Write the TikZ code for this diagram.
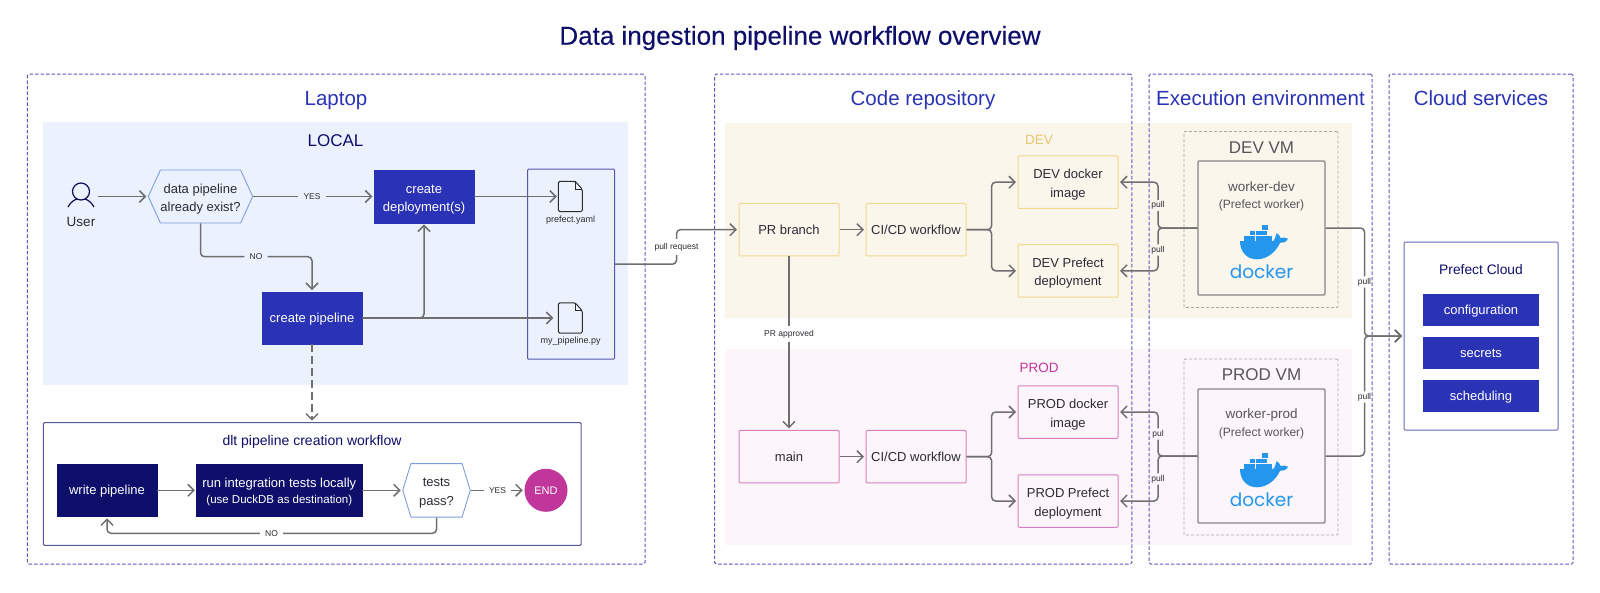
\documentclass[tikz,border=0pt]{standalone}
\usepackage{fontspec}
\setmainfont{Liberation Sans}
\newfontfamily\dockerfont{Poppins}
\newfontfamily\mediumfont[FakeBold=0.2]{Liberation Sans}
\usepackage{tikz}
\usetikzlibrary{arrows.meta,shapes.symbols,calc}

\definecolor{navy}{HTML}{0E0E6B}
\definecolor{royal}{HTML}{2A33B5}
\definecolor{framec}{HTML}{5E55C0}
\definecolor{localbg}{HTML}{EBF2FE}
\definecolor{devbg}{HTML}{FBF6EC}
\definecolor{prodbg}{HTML}{FCF6FB}
\definecolor{devc}{HTML}{F1D98F}
\definecolor{prodc}{HTML}{D87FBF}
\definecolor{devtxt}{HTML}{E6C66E}
\definecolor{prodtxt}{HTML}{C0369B}
\definecolor{hexc}{HTML}{7F9CE2}
\definecolor{linec}{HTML}{6F6F70}
\definecolor{boxc}{HTML}{5358AE}
\definecolor{txtc}{HTML}{2B2B33}
\definecolor{vmc}{HTML}{55555A}
\definecolor{dockerc}{HTML}{2496ED}

% page icon on top of an empty node
\newcommand{\fileicon}[1]{
  \draw[linec!40!black, line width=1pt, rounded corners=1.5pt] (#1.north west) -- ($(#1.north east)+(-7,0)$) -- ($(#1.north east)+(0,8)$) -- (#1.south east) -- (#1.south west) -- cycle;
  \draw[linec!40!black, line width=.8pt] ($(#1.north east)+(-7,0)$) -- ($(#1.north east)+(-7,8)$) -- ($(#1.north east)+(0,8)$);
}
% whale, containers and word; #1 = deck position, #2 = node name
\newcommand{\dockerlogo}[2]{
  \begin{scope}[shift={(#1)}]
    \fill[dockerc] (-21,0) -- (12,0) .. controls (14,-1) and (14.5,-5) .. (15.7,-8) .. controls (18,-6.5) and (19,-4.5) .. (19.5,-3) .. controls (22,-3.8) and (25,-3.6) .. (27,-2.3) .. controls (25,1.5) and (22,2) .. (19,1.8) .. controls (15,11) and (6,18.3) .. (-4,18.3) .. controls (-15,18.3) and (-21,10) .. (-21,0) -- cycle;
    \foreach \i in {0,...,4} \fill[dockerc] ({-16.7+5.7*\i},-5.3) rectangle ++(5.2,4.8);
    \foreach \i in {0,...,2} \fill[dockerc] ({-11+5.7*\i},-10.3) rectangle ++(5.2,4.6);
    \fill[dockerc] (1.4,-15.7) rectangle ++(5.2,4.6);
    \node[dockertext] (#2) at (0.5,31) {docker};
  \end{scope}
}

\begin{document}
\begin{tikzpicture}[
    x=1pt, y=-1pt,
    frame/.style={draw=framec, dashed, dash pattern=on 3.5pt off 2pt, line width=1pt, rounded corners=1.5pt},
    zone/.style={fill=#1, inner sep=0pt},
    headtext/.style={font=\fontsize{20.5}{24}\selectfont, text=royal, text height=15pt, text depth=0pt},
    flow/.style={minimum width=100pt, minimum height=52.5pt, inner sep=0pt, align=center, font=\fontsize{13}{18.5}\selectfont},
    oneline/.style={text height=9pt, text depth=0pt},
    twoline/.style={text height=30pt, text depth=0pt},
    royalbox/.style={flow, fill=royal, draw=royal, text=white},
    navybox/.style={flow, fill=navy, draw=navy, text=white},
    devbox/.style={flow, fill=devbg, draw=devc, line width=1pt, rounded corners=1pt, text=txtc},
    prodbox/.style={flow, fill=prodbg, draw=prodc, line width=1pt, rounded corners=1pt, text=txtc},
    hexbox/.style={shape=signal, signal to=east and west, signal from=nowhere, draw=hexc, line width=.9pt, inner sep=0pt, align=center, font=\fontsize{13}{18.5}\selectfont, text=txtc, twoline},
    outline/.style={draw=boxc, line width=1pt, rounded corners=1pt, inner sep=0pt},
    vmbox/.style={draw=linec!60, dashed, dash pattern=on 3pt off 2pt, line width=.8pt, rounded corners=1pt, minimum width=154pt, minimum height=176pt},
    workerbox/.style={draw=linec!85, line width=1.2pt, rounded corners=1pt, minimum width=127pt, minimum height=134pt},
    servicebox/.style={fill=royal, text=white, minimum width=116pt, minimum height=32pt, inner sep=0pt, font=\fontsize{13}{16}\selectfont, oneline},
    lbl/.style={font=\fontsize{8.5}{10}\selectfont, text=txtc, inner sep=1.5pt},
    yesno/.style={lbl, inner sep=5pt},
    filetext/.style={font=\fontsize{9}{11}\selectfont, text=txtc},
    dockertext/.style={font=\dockerfont\fontsize{18.5}{22}\selectfont, text=dockerc, inner sep=0pt},
    line/.style={draw=linec, line width=1.5pt, rounded corners=4pt},
    arr/.style={line, -{Straight Barb[length=6pt, width=12pt, line width=1.5pt]}, shorten >=1.5pt},
]
\useasboundingbox (0,0) rectangle (1600,592);

\node[navy, font=\mediumfont\fontsize{26}{30}\selectfont] (title) at (800,38) {Data ingestion pipeline workflow overview};

% coloured zones
\node[zone=localbg, minimum width=584.6pt, minimum height=262.7pt] (localzone) at (335.7,253.7) {};
\node[zone=devbg, minimum width=627pt, minimum height=195pt] (devzone) at (1038.5,220.5) {};
\node[zone=prodbg, minimum width=627pt, minimum height=196pt] (prodzone) at (1038.5,447) {};

% dashed frames
\node[frame, minimum width=617.6pt, minimum height=490pt] (laptop) at (336.2,319) {};
\node[frame, minimum width=417.3pt, minimum height=490pt] (coderepo) at (923.3,319) {};
\node[frame, minimum width=223pt, minimum height=490pt] (execenv) at (1260.5,319) {};
\node[frame, minimum width=184pt, minimum height=490pt] (cloudsrv) at (1481,319) {};

\node[headtext] (laptophead) at (336,98) {Laptop};
\node[headtext] (codehead) at (923,98) {Code repository};
\node[headtext] (exechead) at (1260.5,98) {Execution environment};
\node[headtext] (cloudhead) at (1481,98) {Cloud services};

\node[navy, font=\fontsize{17}{20}\selectfont] (localhead) at (335.5,141) {LOCAL};
\node[devtxt, font=\fontsize{13.5}{16}\selectfont] (devhead) at (1039,140) {DEV};
\node[prodtxt, font=\fontsize{13.5}{16}\selectfont] (prodhead) at (1039,367.5) {PROD};

% local flow
\node[minimum width=34pt, minimum height=26pt, inner sep=0pt] (user) at (81,196.5) {};
\node[font=\fontsize{13.5}{16}\selectfont, text=txtc] (usertext) at (81,222) {User};
\node[hexbox, minimum width=94pt, minimum height=53pt, signal pointer angle=131] (exist) at (200.5,196.5) {data pipeline\\already exist?};
\node[royalbox, twoline] (deploy) at (424,196.5) {create\\deployment(s)};
\node[royalbox, oneline] (pipeline) at (312,318) {create pipeline};
\node[outline, minimum width=87pt, minimum height=190pt] (files) at (571,264.2) {};
\node[minimum width=23.5pt, minimum height=30pt, inner sep=0pt] (yaml) at (570.3,196.5) {};
\node[minimum width=23.5pt, minimum height=30pt, inner sep=0pt] (mypy) at (570.3,318) {};
\fileicon{yaml}
\fileicon{mypy}
\node[filetext] (yamltext) at (570.7,220) {prefect.yaml};
\node[filetext] (mypytext) at (570.7,341) {my\_pipeline.py};
\node[yesno] (yesa) at (312,196.5) {YES};
\node[yesno] (noa) at (256,256.7) {NO};

% dlt box
\node[outline, fill=white, draw=navy!70, minimum width=537.6pt, minimum height=122.6pt] (dlt) at (312.2,484) {};
\node[navy, font=\fontsize{14}{16}\selectfont] (dlthead) at (312,441.7) {dlt pipeline creation workflow};
\node[navybox, oneline] (write) at (107,490.3) {write pipeline};
\node[navybox, text height=27pt, text depth=0pt, minimum width=165.4pt, font=\fontsize{13}{17}\selectfont] (tests) at (279.3,490.3) {run integration tests locally\\[-1pt]{\fontsize{11.5}{14}\selectfont (use DuckDB as destination)}};
\node[hexbox, fill=white, minimum width=67.5pt, minimum height=53.5pt, signal pointer angle=146] (pass) at (436.5,490.3) {tests\\pass?};
\node[circle, fill=prodtxt, text=white, minimum size=43pt, inner sep=0pt, font=\fontsize{11}{13}\selectfont] (finish) at (546,490.3) {END};
\node[yesno] (yesb) at (497.5,490.3) {YES};
\node[yesno] (nob) at (271.5,533.3) {NO};

% code repository
\node[devbox, oneline] (prbranch) at (789,229.7) {PR branch};
\node[devbox, oneline] (cidev) at (916,229.7) {CI/CD workflow};
\node[devbox, twoline] (devimage) at (1068,182.2) {DEV docker\\image};
\node[devbox, twoline] (devdeploy) at (1068,270.8) {DEV Prefect\\deployment};
\node[prodbox, oneline] (mainbranch) at (789,456.7) {main};
\node[prodbox, oneline] (ciprod) at (916,456.7) {CI/CD workflow};
\node[prodbox, twoline] (prodimage) at (1068,412) {PROD docker\\image};
\node[prodbox, twoline] (proddeploy) at (1068,501) {PROD Prefect\\deployment};
\node[lbl, fill=white, inner sep=4pt] (pullreq) at (676.5,247) {pull request};
\node[lbl, fill=white, inner sep=4pt] (approved) at (789,334) {PR approved};

% virtual machines
\node[vmbox] (devvm) at (1261,219.5) {};
\node[vmbox] (prodvm) at (1261,447) {};
\node[font=\fontsize{17}{21}\selectfont, text=vmc] (devvmtext) at (1261.5,147.5) {DEV VM};
\node[font=\fontsize{17}{21}\selectfont, text=vmc] (prodvmtext) at (1261.5,375) {PROD VM};
\node[workerbox] (workerdev) at (1261.5,228) {};
\node[workerbox] (workerprod) at (1261.5,456) {};
\node[font=\fontsize{13.5}{16}\selectfont, text=vmc] (devname) at (1261.5,187) {worker-dev};
\node[font=\fontsize{12}{15}\selectfont, text=vmc] (devkind) at (1261.5,205) {(Prefect worker)};
\node[font=\fontsize{13.5}{16}\selectfont, text=vmc] (prodname) at (1261.5,415) {worker-prod};
\node[font=\fontsize{12}{15}\selectfont, text=vmc] (prodkind) at (1261.5,433) {(Prefect worker)};
\dockerlogo{1261,241}{dockerdev}
\dockerlogo{1261,469}{dockerprod}

\node[lbl] (pulla) at (1158,205.5) {pull};
\node[lbl] (pullb) at (1158,250) {pull};
\node[lbl] (pullc) at (1158,434) {pul};
\node[lbl] (pulld) at (1158,479) {pull};
\node[lbl] (pulle) at (1364.5,282) {pull};
\node[lbl] (pullf) at (1364.5,397) {pull};

% cloud
\node[outline, draw=boxc!90, minimum width=154pt, minimum height=188pt] (cloud) at (1481,336) {};
\node[navy, font=\fontsize{13.8}{16}\selectfont] (cloudtext) at (1481,270) {Prefect Cloud};
\node[servicebox] (config) at (1481,310) {configuration};
\node[servicebox] (secrets) at (1481,353) {secrets};
\node[servicebox] (sched) at (1481,396) {scheduling};

\coordinate (prbend) at (676.5,264.2);
\coordinate (devfork) at (991.6,229.7);
\coordinate (prodfork) at (991.6,456.7);
\coordinate (devpull) at (1158,228);
\coordinate (prodpull) at (1158,456);

% connectors
\draw[arr] (user.east) -- (exist.west);
\draw[line] (exist.east) -- (yesa.west);
\draw[arr] (yesa.east) -- (deploy.west);
\draw[line] (exist.south) |- (noa.west);
\draw[arr] (noa.east) -| (pipeline.north);
\draw[arr] (deploy.east) -- (yaml.west);
\draw[arr, shorten >=5pt] (pipeline.east) -- (mypy.west);
\draw[arr] (pipeline.east) -| (deploy.south);
\draw[arr, dashed, dash pattern=on 8pt off 4pt] (pipeline.south) -- (dlt.north -| pipeline.south);

\draw[arr] (write.east) -- (tests.west);
\draw[arr] (tests.east) -- (pass.west);
\draw[line] (pass.east) -- (yesb.west);
\draw[arr] (yesb.east) -- (finish.west);
\draw[line] (pass.south) |- (nob.east);
\draw[arr] (nob.west) -| (write.south);

\draw[line] (files.east) -- (prbend) -- (pullreq.south);
\draw[arr] (pullreq.north) |- (prbranch.west);
\draw[arr] (prbranch.east) -- (cidev.west);
\draw[line] (prbranch.south) -- (approved.north);
\draw[arr] (approved.south) -- (mainbranch.north);
\draw[arr] (mainbranch.east) -- (ciprod.west);
\draw[arr] (cidev.east) -- (devfork) |- (devimage.west);
\draw[arr] (cidev.east) -- (devfork) |- (devdeploy.west);
\draw[arr] (ciprod.east) -- (prodfork) |- (prodimage.west);
\draw[arr] (ciprod.east) -- (prodfork) |- (proddeploy.west);

\draw[line] (workerdev.west) -- (devpull) -- (pulla.south);
\draw[arr] (pulla.north) |- (devimage.east);
\draw[line] (workerdev.west) -- (devpull) -- (pullb.north);
\draw[arr] (pullb.south) |- (devdeploy.east);
\draw[line] (workerprod.west) -- (prodpull) -- (pullc.south);
\draw[arr] (pullc.north) |- (prodimage.east);
\draw[line] (workerprod.west) -- (prodpull) -- (pulld.north);
\draw[arr] (pulld.south) |- (proddeploy.east);

\draw[line] (workerdev.east) -| (pulle.north);
\draw[arr] (pulle.south) |- (cloud.west);
\draw[line] (workerprod.east) -| (pullf.south);
\draw[arr] (pullf.north) |- (cloud.west);

% user figure
\draw[navy!80!black, line width=1.2pt] (81,191.5) circle (8.5);
\draw[navy!80!black, line width=1.2pt] (68,207) .. controls (72,200) and (76,199.5) .. (77,199) (85,199) .. controls (86,199.5) and (90,200) .. (94,207);
\end{tikzpicture}
\end{document}
